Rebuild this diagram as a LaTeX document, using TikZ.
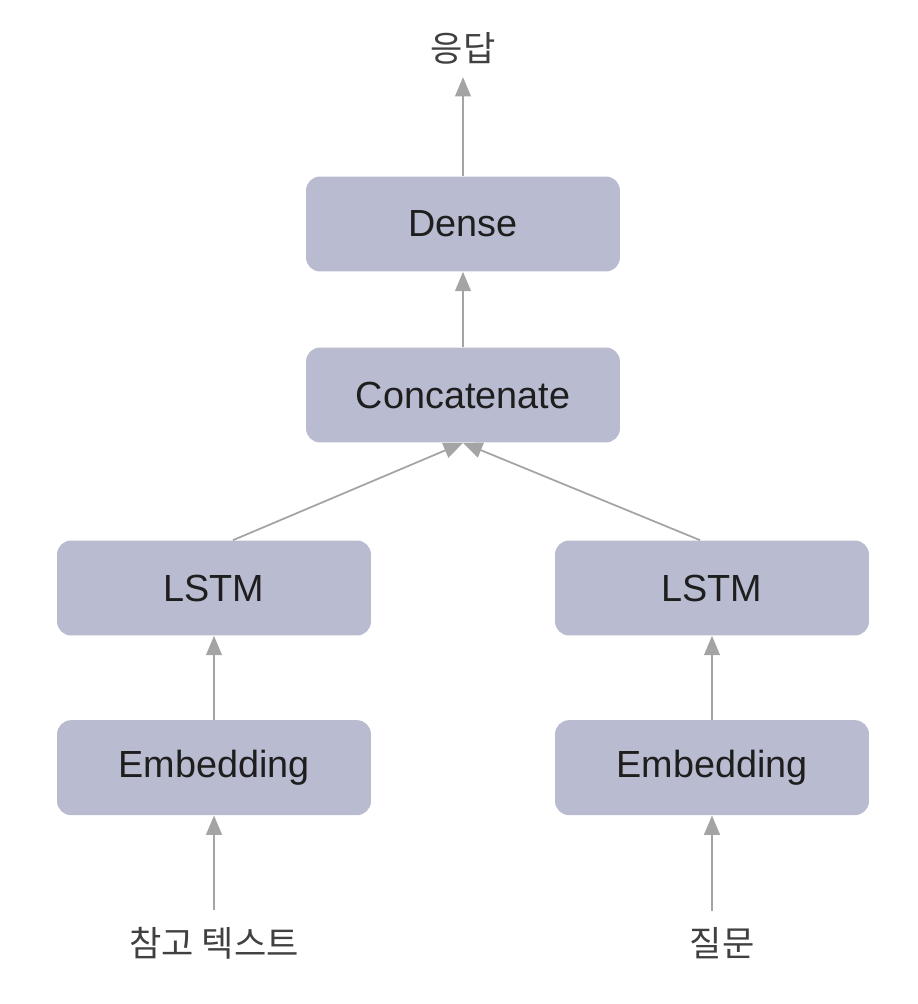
\documentclass[tikz,border=0pt]{standalone}
\usepackage{fontspec}
\setmainfont{Liberation Sans}
\newfontfamily\kofont{Noto Sans CJK KR}
\usetikzlibrary{positioning,arrows.meta}
\definecolor{layerfill}{HTML}{B9BCD0}
\definecolor{flowgray}{HTML}{A4A4A4}
\definecolor{inkdark}{HTML}{1E1E1E}
\begin{document}
\begin{tikzpicture}[x=0.02cm,y=-0.02cm,
	layer/.style={fill=layerfill, rounded corners=8pt, minimum width=6.28cm, minimum height=1.9cm, text=inkdark, font=\fontsize{21.5}{26}\selectfont},
	io/.style={text=inkdark!85, font=\kofont\fontsize{20}{24}\selectfont},
	flow/.style={draw=flowgray, line width=1pt, -{Triangle[length=11pt,width=9pt]}}]
	\useasboundingbox (0,0) rectangle (917,1004);
	\node[layer] (dense) at (463,224) {Dense};
	\node[layer] (concat) at (463,395) {Concatenate};
	\node[layer] (lstmL) at (214,588) {LSTM};
	\node[layer] (lstmR) at (712,588) {LSTM};
	\node[layer] (embL) [below=1.68cm of lstmL] {Embedding};
	\node[layer] (embR) [below=1.68cm of lstmR] {Embedding};
	\node[io] (answer) at (463,48) {응답};
	\node[io] (context) at (214,943) {참고 텍스트};
	\node[io] (question) at (722,943) {질문};
	\draw[flow] (dense) -- ([yshift=-4pt]answer.south);
	\draw[flow] (concat) -- (dense);
	\draw[flow] ([xshift=0.38cm]lstmL.north) -- (concat.south);
	\draw[flow] ([xshift=-0.24cm]lstmR.north) -- (concat.south);
	\draw[flow] (embL) -- (lstmL);
	\draw[flow] (embR) -- (lstmR);
	\draw[flow, shorten <=6pt] (context.north -| embL) -- (embL);
	\draw[flow, shorten <=6pt] (question.north -| embR) -- (embR);
\end{tikzpicture}
\end{document}
